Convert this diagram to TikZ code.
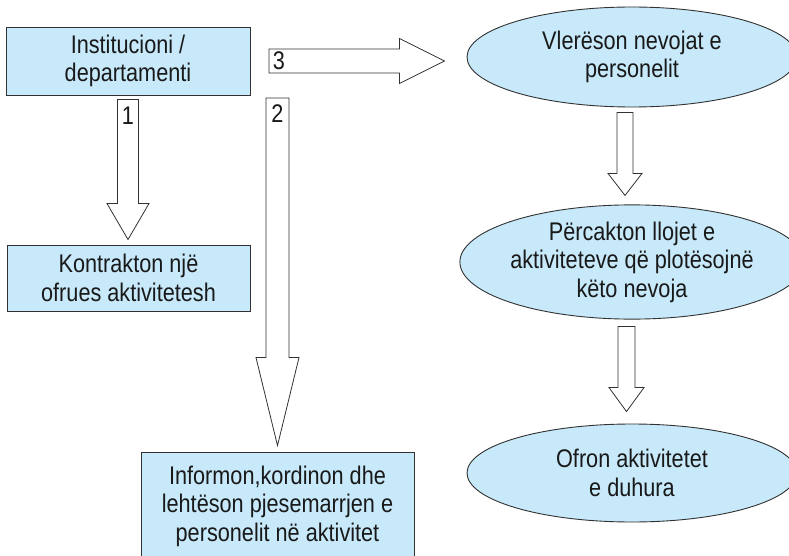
\documentclass[tikz,border=0pt]{standalone}
\usepackage{fontspec}
\setmainfont{Liberation Sans}[FakeStretch=0.85]
\usetikzlibrary{shapes.geometric,calc}
\definecolor{boxfill}{RGB}{199,233,250}
\definecolor{edge}{RGB}{50,50,50}
\definecolor{ink}{RGB}{25,25,25}
\tikzset{
 base/.style={draw=edge, line width=0.9pt, fill=boxfill, text=ink, align=center, font=\fontsize{25.5}{28.5}\selectfont},
 rectbox/.style={base, rectangle, inner sep=0pt},
 ellbox/.style={base, ellipse, inner sep=0pt},
 blk/.style={draw=edge, line width=0.8pt, fill=white, line join=miter},
 numlabel/.style={text=ink, font=\fontsize{25.5}{28}\selectfont, inner sep=0pt}
}
\newcommand\blkdown[5]{%
 \draw[blk] let \p1=(#1), \p2=(#2) in
 (\x2-#4,\y1) -- (\x2+#4,\y1) -- (\x2+#4,\y2+#3) -- (\x2+#5,\y2+#3) -- (\x2,\y2)
 -- (\x2-#5,\y2+#3) -- (\x2-#4,\y2+#3) -- cycle;}
\newcommand\blkright[5]{%
 \draw[blk] let \p1=(#1), \p2=(#2) in
 (\x1,\y2+#4) -- (\x2-#3,\y2+#4) -- (\x2-#3,\y2+#5) -- (\x2,\y2)
 -- (\x2-#3,\y2-#5) -- (\x2-#3,\y2-#4) -- (\x1,\y2-#4) -- cycle;}
\begin{document}
\begin{tikzpicture}[x=1pt,y=-1pt]
\clip (0,0) rectangle (789,556);
\fill[white] (0,0) rectangle (789,556);
% boxes
\node[rectbox, minimum width=244pt, minimum height=68pt] (inst) at (128,61) {Institucioni /\\departamenti};
\node[rectbox, minimum width=243pt, minimum height=66pt] (kontr) at (128.5,278) {Kontrakton një\\ofrues aktivitetesh};
\node[rectbox, minimum width=273pt, minimum height=108pt] (inform) at (277.5,506) {Informon,kordinon dhe\\lehtëson pjesemarrjen e\\personelit në aktivitet};
% ellipses
\node[ellbox, minimum width=330pt, minimum height=100pt] (vler) at (632,57) {Vlerëson nevojat e\\personelit};
\node[ellbox, minimum width=330pt, minimum height=100pt] (perc) at (632,262) {Përcakton llojet e\\aktiviteteve që plotësojnë\\këto nevoja};
\node[ellbox, minimum width=330pt, minimum height=98pt] (ofron) at (632,473) {Ofron aktivitetet\\e duhura};
% arrow end points
\coordinate (a1s) at ($(inst.south)+(0,4)$);
\coordinate (a1t) at ($(kontr.north)+(-0.5,-5)$);
\coordinate (a2s) at (277.5,98);
\coordinate (a2t) at ($(inform.north)+(0,-6)$);
\coordinate (a3s) at (269,61);
\coordinate (a3t) at ($(vler.west)+(-22,4)$);
\coordinate (a4s) at ($(vler.south)+(-7,5)$);
\coordinate (a4t) at ($(perc.north)+(-7,-9)$);
\coordinate (a5s) at ($(perc.south)+(-5.5,7)$);
\coordinate (a5t) at ($(ofron.north)+(-5.5,-12)$);
% block arrows
\blkdown{a1s}{a1t}{36pt}{10.5pt}{21pt}
\blkdown{a2s}{a2t}{88pt}{11.5pt}{21.5pt}
\blkright{a3s}{a3t}{45pt}{12pt}{22.5pt}
\blkdown{a4s}{a4t}{22pt}{8pt}{17pt}
\blkdown{a5s}{a5t}{24pt}{8.5pt}{17.5pt}
% labels
\node[numlabel] (n1) at (128,116) {1};
\node[numlabel] (n2) at (277.5,114) {2};
\node[numlabel] (n3) at (279,61) {3};
\end{tikzpicture}
\end{document}
